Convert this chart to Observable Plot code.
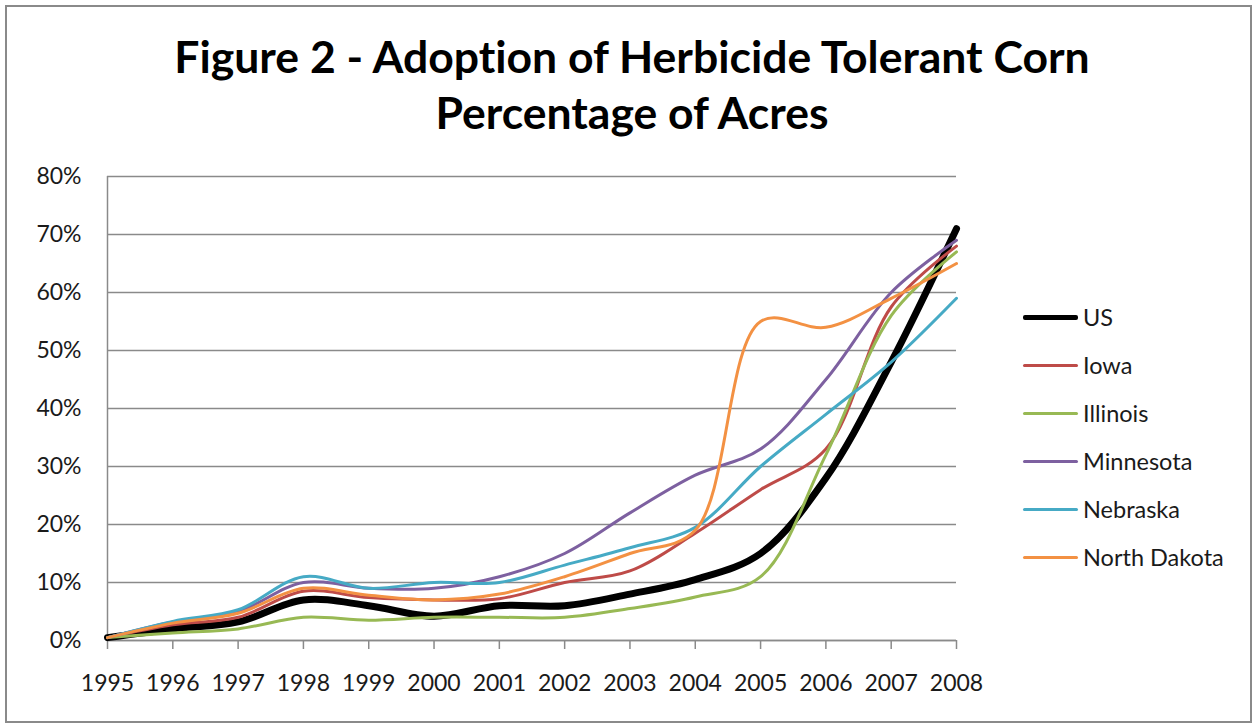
<!DOCTYPE html>
<html><head><meta charset="utf-8">
<script src="https://cdn.jsdelivr.net/npm/d3@7"></script>
<script src="https://cdn.jsdelivr.net/npm/@observablehq/plot@0.6"></script>
<style>
body{margin:0;background:#fff;font-family:Lato,sans-serif;font-variant-ligatures:none;}
#wrap{position:relative;width:1255px;height:725px;overflow:hidden;}
#frame{position:absolute;left:5px;top:5px;width:1247px;height:718px;border:2px solid #8a8a8a;box-sizing:border-box;}
#chart{position:absolute;left:0;top:0;}
#title{position:absolute;left:0;width:1264px;top:28px;text-align:center;font-weight:700;font-size:44.5px;line-height:56px;color:#000;font-variant-ligatures:none;}
#legend{position:absolute;left:1023px;top:293px;}
.row{display:flex;align-items:center;height:48px;}
.sw{width:55px;margin-right:5px;border-radius:2px;}
.lab{font-size:23.5px;color:#1a1a1a;}
</style></head>
<body>
<div id="wrap">
<div id="frame"></div>
<div id="chart"></div>
<div id="title">Figure 2 - Adoption of Herbicide Tolerant Corn<br>Percentage of Acres</div>
<div id="legend"></div>
</div>
<script>
const years = [1995,1996,1997,1998,1999,2000,2001,2002,2003,2004,2005,2006,2007,2008];
const yTicks = [0,0.1,0.2,0.3,0.4,0.5,0.6,0.7,0.8];
const seriesNames = ["US","Iowa","Illinois","Minnesota","Nebraska","North Dakota"];
const seriesColors = ["#000000","#BE4B48","#98B954","#7D60A0","#46AAC5","#F39143"];
const us        = [0.5, 2.0, 3.2, 7.0, 6.0, 4.2, 6.0, 6.0, 8.0, 10.5, 15, 28, 48, 71];
const iowa      = [0.5, 2.7, 4.0, 8.5, 7.4, 7.0, 7.2, 10, 12, 18.5, 26, 33, 57.5, 68];
const illinois  = [0.5, 1.3, 2.0, 4.0, 3.5, 4.0, 4.0, 4.0, 5.5, 7.5, 11, 32, 56, 67];
const minnesota = [0.5, 3.2, 5.0, 10, 9.0, 9.0, 11, 15, 22, 28.5, 33, 45, 60, 69];
const nebraska  = [0.5, 3.3, 5.3, 11, 9.0, 10, 10, 13, 16, 19.5, 30, 39, 48, 59];
const northDakota = [0.5, 3.0, 4.7, 9.0, 7.8, 7.0, 8.0, 11, 15, 19, 55, 54, 59, 65];
const seriesValues = [us, iowa, illinois, minnesota, nebraska, northDakota];

const data = seriesNames.flatMap((name, s) => years.map((year, i) => ({series: name, year, value: seriesValues[s][i] / 100})));

const grid = "#8a8a8a";
const chart = Plot.plot({
  width: 1255, height: 725,
  marginLeft: 107, marginRight: 299, marginTop: 176, marginBottom: 85,
  style: {fontFamily: "Lato, sans-serif", fontSize: "23px", color: "#1a1a1a", background: "transparent"},
  x: {domain: [1995, 2008], label: null},
  y: {domain: [0, 0.8], label: null},
  marks: [
    Plot.gridY(yTicks, {stroke: grid, strokeOpacity: 1, strokeWidth: 1.5}),
    Plot.ruleX([1995], {stroke: grid, strokeWidth: 1.5}),
    Plot.axisY(yTicks, {tickSize: 0, tickPadding: 26, tickFormat: d3.format(".0%"), fill: "#1a1a1a"}),
    Plot.axisX(years, {tickSize: 9, tickPadding: 25, tickFormat: d => String(d), stroke: grid, strokeWidth: 1.5, fill: "#1a1a1a"}),
    Plot.ruleY([0], {stroke: grid, strokeWidth: 1.5}),
    ...seriesNames.map((name, s) => Plot.lineY(data.filter(d => d.series === name), {
      x: "year", y: "value", stroke: seriesColors[s], strokeWidth: s === 0 ? 7 : 3, curve: "catmull-rom"
    }))
  ]
});
document.getElementById("chart").appendChild(chart);

const legend = document.getElementById("legend");
seriesNames.forEach((name, s) => {
  const row = document.createElement("div");
  row.className = "row";
  const sw = document.createElement("div");
  sw.className = "sw";
  sw.style.background = seriesColors[s];
  sw.style.height = (s === 0 ? 5 : 3) + "px";
  const lab = document.createElement("span");
  lab.className = "lab";
  lab.textContent = name;
  row.appendChild(sw); row.appendChild(lab);
  legend.appendChild(row);
});
</script>
</body></html>
